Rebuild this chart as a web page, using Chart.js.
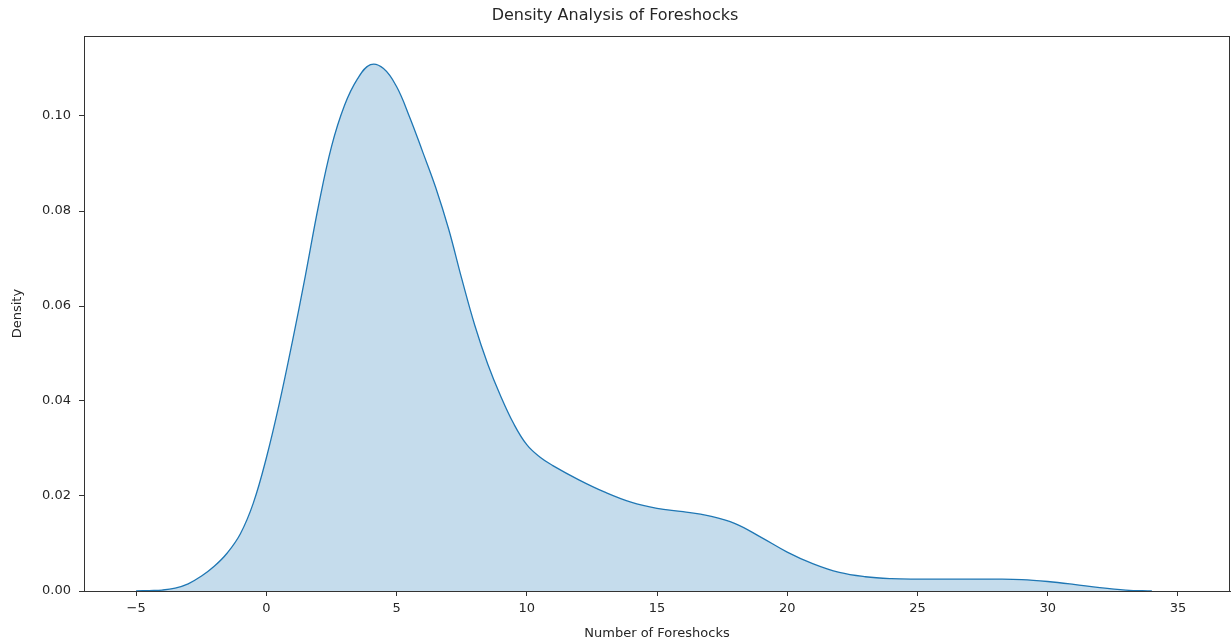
<!DOCTYPE html>
<html>
<head>
<meta charset="utf-8">
<script src="https://cdn.jsdelivr.net/npm/chart.js@4.4.1/dist/chart.umd.min.js"></script>
<style>
  html, body { margin: 0; padding: 0; background: #fff; }
  #wrap { width: 1231px; height: 643px; }
</style>
</head>
<body>
<div id="wrap"><canvas id="c" width="1231" height="643"></canvas></div>
<script>
const xValues = [-5, -4.5, -4, -3.5, -3, -2.5, -2, -1.5, -1, -0.5, 0, 0.5, 1, 1.5, 2, 2.5, 3, 3.5, 4, 4.5, 5, 5.5, 6, 6.5, 7, 7.5, 8, 8.5, 9, 9.5, 10, 10.5, 11, 12, 13, 14, 15, 16, 17, 18, 19, 20, 21, 22, 23, 24, 25, 26, 27, 28, 29, 30, 31, 32, 33, 34];
const densityValues = [0.0000, 0.0001, 0.0002, 0.0006, 0.0015, 0.0031, 0.0052, 0.0080, 0.0120, 0.0185, 0.0280, 0.0395, 0.0525, 0.0664, 0.0810, 0.0935, 0.1022, 0.1078, 0.1108, 0.1100, 0.1062, 0.0998, 0.0925, 0.0850, 0.0762, 0.0658, 0.0560, 0.0478, 0.0410, 0.0352, 0.0308, 0.0282, 0.0264, 0.0234, 0.0208, 0.0187, 0.0174, 0.0167, 0.0158, 0.0142, 0.0113, 0.0082, 0.0057, 0.0039, 0.0030, 0.0026, 0.0025, 0.0025, 0.0025, 0.0025, 0.0024, 0.0020, 0.0014, 0.0007, 0.0002, 0.0000];
const xTickValues = [-5, 0, 5, 10, 15, 20, 25, 30, 35];
const yTickValues = [0, 0.02, 0.04, 0.06, 0.08, 0.10];

const points = xValues.map((x, i) => ({ x: x, y: densityValues[i] }));
const FONT = "'DejaVu Sans', sans-serif";
const TXT = '#262626';

const boxPlugin = {
  id: 'box',
  afterDatasetsDraw(chart) {
    const a = chart.chartArea, ctx = chart.ctx;
    ctx.save();
    ctx.strokeStyle = '#333';
    ctx.lineWidth = 1;
    ctx.strokeRect(Math.round(a.left) + 0.5, Math.round(a.top) + 0.5, Math.round(a.right - a.left) - 1, Math.round(a.bottom - a.top));
    ctx.restore();
  }
};

new Chart(document.getElementById('c'), {
  type: 'line',
  data: {
    datasets: [{
      data: points,
      borderColor: 'rgb(31,119,180)',
      borderWidth: 1.3,
      backgroundColor: 'rgba(31,119,180,0.26)',
      fill: 'origin',
      pointRadius: 0,
      tension: 0.4
    }]
  },
  options: {
    responsive: false,
    animation: false,
    layout: { padding: { left: 0, right: 1, top: 0, bottom: 0 } },
    plugins: {
      legend: { display: false },
      tooltip: { enabled: false },
      title: {
        display: true,
        text: 'Density Analysis of Foreshocks',
        color: TXT,
        font: { family: FONT, size: 16, weight: 'normal' },
        padding: { top: 6, bottom: 11 }
      }
    },
    scales: {
      x: {
        type: 'linear',
        min: -7,
        max: 37,
        afterBuildTicks: (s) => { s.ticks = xTickValues.map(v => ({ value: v })); },
        afterFit: (s) => { s.height = 52; },
        grid: { display: true, drawOnChartArea: false, drawTicks: true, tickLength: 5, tickColor: '#333', color: '#333' },
        border: { display: true, color: '#333', width: 1 },
        ticks: {
          color: TXT, padding: 5, maxRotation: 0,
          font: { family: FONT, size: 13 },
          callback: (v) => (v < 0 ? '\u2212' + Math.abs(v) : String(v))
        },
        title: {
          display: true, text: 'Number of Foreshocks', color: TXT,
          font: { family: FONT, size: 13 }, padding: { top: 0, bottom: 2 }
        }
      },
      y: {
        type: 'linear',
        min: 0,
        max: 0.1168,
        afterBuildTicks: (s) => { s.ticks = yTickValues.map(v => ({ value: v })); },
        afterFit: (s) => { s.width = 84; },
        grid: { display: true, drawOnChartArea: false, drawTicks: true, tickLength: 5, tickColor: '#333', color: '#333' },
        border: { display: true, color: '#333', width: 1 },
        ticks: {
          color: TXT, padding: 8,
          font: { family: FONT, size: 13 },
          callback: (v) => Number(v).toFixed(2)
        },
        title: {
          display: true, text: 'Density', color: TXT,
          font: { family: FONT, size: 13 }, padding: { top: 10, bottom: 0 }
        }
      }
    }
  },
  plugins: [boxPlugin]
});
</script>
</body>
</html>
